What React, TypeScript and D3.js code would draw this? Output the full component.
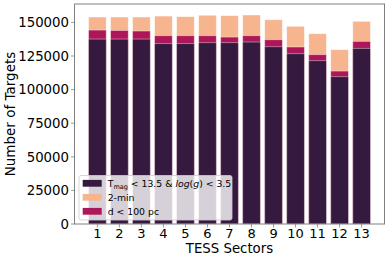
import React from 'react';
import * as d3 from 'd3';

// sectors and bar heights
const sectors = [1, 2, 3, 4, 5, 6, 7, 8, 9, 10, 11, 12, 13];
const twoMin = [154000, 154000, 154000, 154700, 154300, 155300, 155000, 155500, 152000, 147100, 141600, 129700, 150800];
const near = [144300, 144000, 143600, 140100, 140100, 140100, 139100, 140100, 137100, 131700, 126000, 113800, 135900];
const bright = [137600, 137600, 137600, 134200, 134200, 134900, 134900, 135400, 131900, 126700, 121500, 109600, 130700];
const yTicks = [0, 25000, 50000, 75000, 100000, 125000, 150000];

const W = 390, H = 260;
const L = 74.5, R = 384.5, T = 4, B = 224;
const FONT = 'DejaVu Sans, sans-serif';

const C_DARK = '#35193e';
const C_PEACH = '#f6b48f';
const C_RED = '#ad1759';

export default function App() {
	const x = d3.scaleLinear().domain([-0.04, 14.04]).range([L, R]);
	const y = d3.scaleLinear().domain([0, 163700]).range([B, T]);
	const bw = x(0.8) - x(0);

	const series = [
		{ vals: twoMin, color: C_PEACH },
		{ vals: near, color: C_RED },
		{ vals: bright, color: C_DARK },
	];

	return (
		<div style={{ position: 'absolute', left: 0, top: 0 }}>
			<svg width={W} height={H} style={{ display: 'block', fontFamily: FONT }}>
				<rect width={W} height={H} fill="#fff" />
				{series.map((s, si) => (
					<g key={si}>
						{sectors.map((sec, i) => (
							<rect key={sec} x={x(sec) - bw / 2} y={y(s.vals[i])} width={bw} height={y(0) - y(s.vals[i])}
								fill={s.color} stroke="#fff" strokeOpacity={0.5} strokeWidth={0.8} />
						))}
					</g>
				))}
				{/* frame */}
				<rect x={L} y={T} width={R - L} height={B - T} fill="none" stroke="#808080" strokeWidth={1} />
				{/* y axis */}
				{yTicks.map(t => (
					<g key={t}>
						<line x1={L - 3.5} x2={L} y1={y(t)} y2={y(t)} stroke="#808080" strokeWidth={0.8} />
						<text x={L - 5.5} y={y(t)} dy="0.36em" textAnchor="end" fontSize={13.3} fill="#000">{t}</text>
					</g>
				))}
				{/* x axis */}
				{sectors.map(s => (
					<g key={s}>
						<line x1={x(s)} x2={x(s)} y1={B} y2={B + 3.5} stroke="#808080" strokeWidth={0.8} />
						<text x={x(s)} y={237.5} textAnchor="middle" fontSize={13} fill="#000">{s}</text>
					</g>
				))}
				<text x={(L + R) / 2} y={253} textAnchor="middle" fontSize={13.3} fill="#000">TESS Sectors</text>
				<text transform={`translate(15,${(T + B) / 2}) rotate(-90)`} textAnchor="middle" fontSize={13.5} fill="#000">Number of Targets</text>
				{/* legend */}
				<rect x={79} y={175.5} width={153} height={44.5} rx={2} fill="#fff" fillOpacity={0.8} stroke="#ccc" strokeOpacity={0.8} />
				{[
					{ color: C_DARK, y: 183.3 },
					{ color: C_PEACH, y: 197.3 },
					{ color: C_RED, y: 211.3 },
				].map((r, i) => (
					<rect key={i} x={82.7} y={r.y - 3.4} width={19} height={6.8} fill={r.color} />
				))}
				<text x={107.7} y={183.3} dy="0.36em" fontSize={9.3} fill="#000">
					T<tspan fontSize={6.5} dy={2}>mag</tspan><tspan dy={-2}> &lt; 13.5 &amp; </tspan>
					<tspan fontStyle="italic">log</tspan>(<tspan fontStyle="italic">g</tspan>) &lt; 3.5
				</text>
				<text x={107.7} y={197.3} dy="0.36em" fontSize={9.3} fill="#000">2-min</text>
				<text x={107.7} y={211.3} dy="0.36em" fontSize={9.3} fill="#000">d &lt; 100 pc</text>
			</svg>
		</div>
	);
}
